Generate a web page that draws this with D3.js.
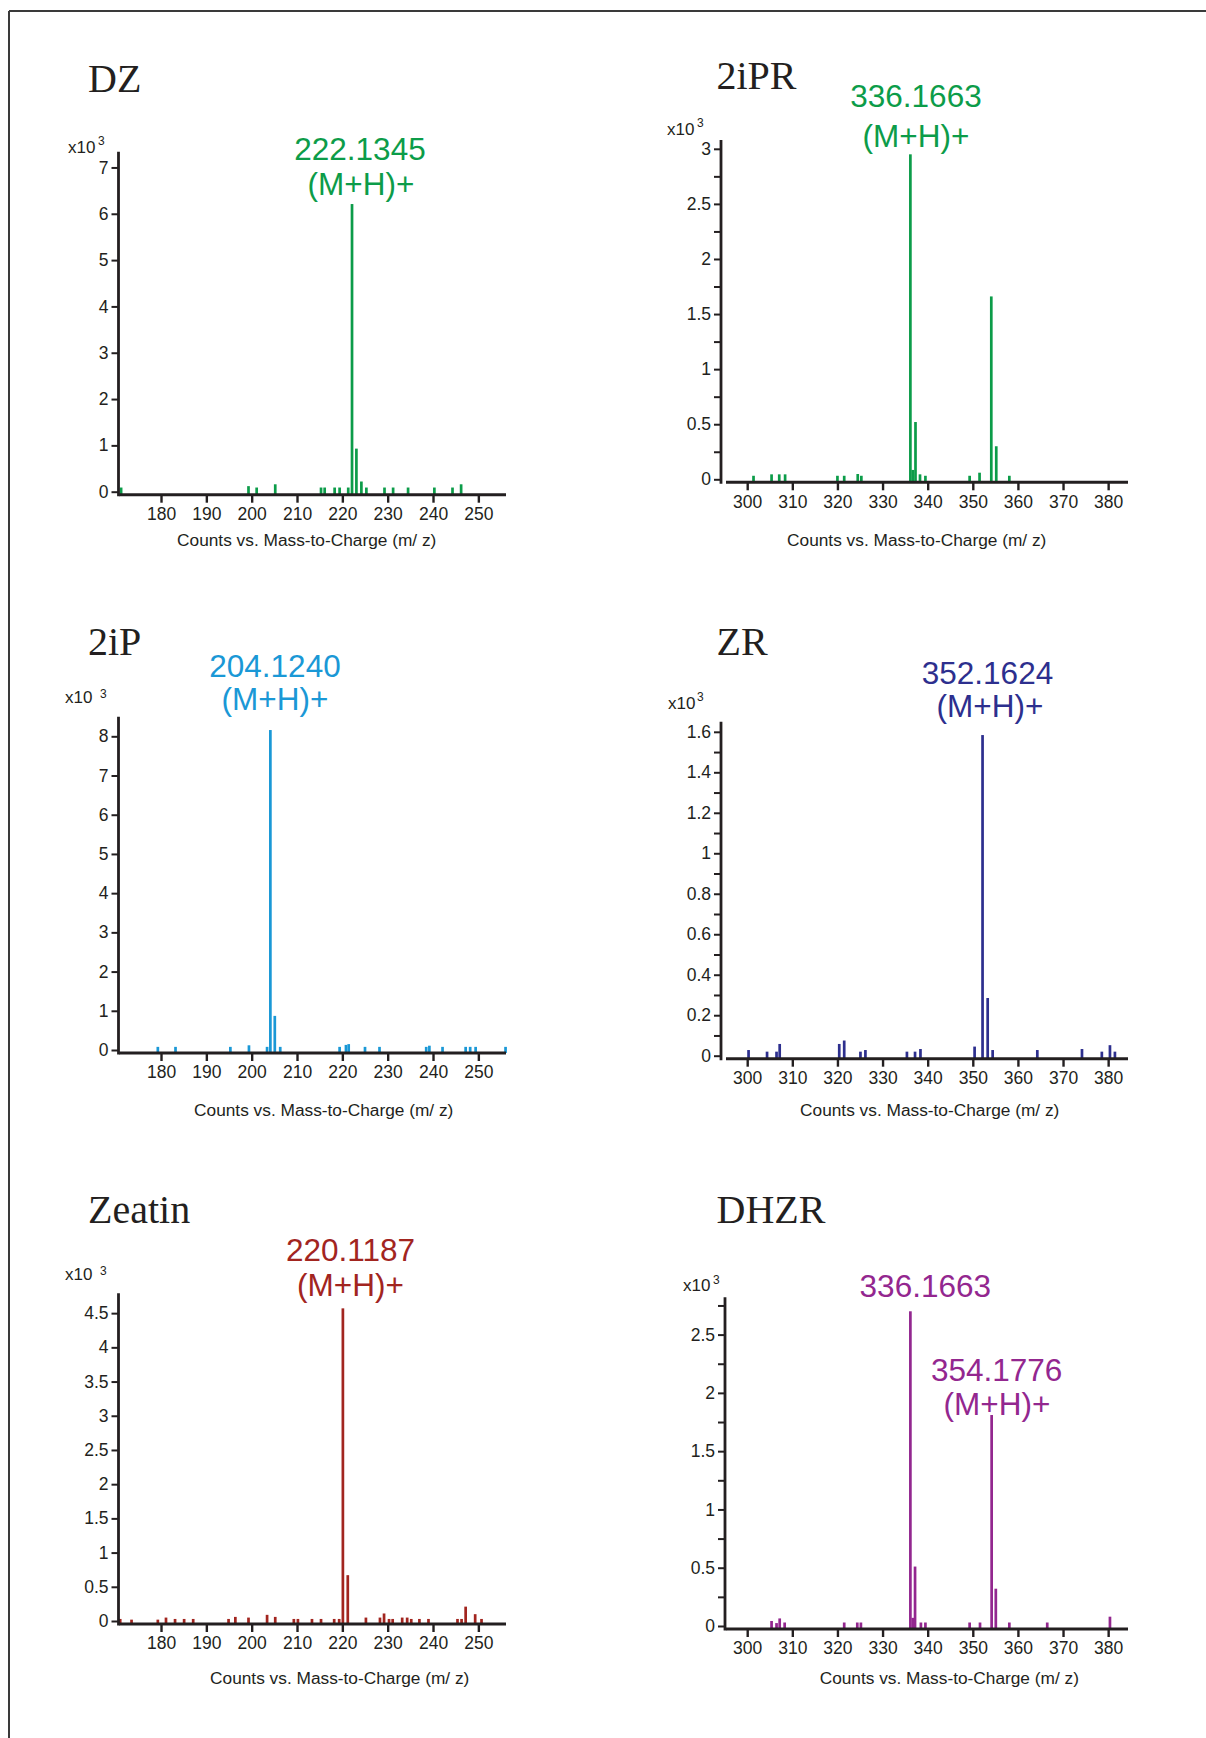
<!DOCTYPE html>
<html>
<head>
<meta charset="utf-8">
<script src="https://cdn.jsdelivr.net/npm/d3@7"></script>
<style>
  html, body { margin: 0; padding: 0; background: #fff; }
  svg { display: block; }
  text { fill: #231f20; }
</style>
</head>
<body>
<svg id="chart" width="1206" height="1738"></svg>
<script>
// ---------------- DATA ----------------
const dzMz     = [171.2, 199.3, 201.1, 205.2, 215.3, 216.1, 218.3, 219.4, 221.3, 222.1345, 223.1, 224.2, 225.3, 229.3, 231.2, 234.5, 240.3, 244.3, 246.2];
const dzCounts = [0.09, 0.12, 0.09, 0.16, 0.09, 0.09, 0.09, 0.09, 0.09, 6.21, 0.93, 0.22, 0.09, 0.09, 0.09, 0.09, 0.09, 0.09, 0.16];

const iprMz     = [301.4, 305.4, 307.1, 308.4, 320.0, 321.5, 324.5, 325.3, 336.1663, 336.7, 337.3, 338.3, 339.5, 349.3, 351.5, 354.1, 355.2, 358.1];
const iprCounts = [0.032, 0.045, 0.045, 0.045, 0.032, 0.032, 0.048, 0.032, 2.95, 0.085, 0.52, 0.045, 0.032, 0.032, 0.06, 1.66, 0.30, 0.032];

const ipMz     = [179.3, 183.2, 195.3, 199.4, 203.4, 204.1240, 205.1, 206.3, 219.4, 220.8, 221.4, 225.0, 228.2, 238.5, 239.2, 242.1, 247.2, 248.2, 249.4, 256.0];
const ipCounts = [0.08, 0.08, 0.08, 0.12, 0.08, 8.16, 0.87, 0.08, 0.08, 0.13, 0.15, 0.08, 0.08, 0.08, 0.11, 0.08, 0.08, 0.08, 0.08, 0.08];

const zrMz     = [300.3, 304.4, 306.5, 307.2, 320.4, 321.5, 325.1, 326.2, 335.4, 337.2, 338.4, 350.4, 352.1624, 353.3, 354.4, 364.3, 374.2, 378.6, 380.4, 381.5];
const zrCounts = [0.028, 0.02, 0.02, 0.058, 0.058, 0.075, 0.02, 0.028, 0.02, 0.02, 0.033, 0.045, 1.584, 0.285, 0.028, 0.028, 0.033, 0.02, 0.052, 0.02];

const zeaMz     = [171.0, 173.5, 179.3, 181.1, 183.1, 185.1, 187.1, 194.9, 196.4, 199.3, 203.4, 205.2, 209.3, 210.2, 213.3, 215.3, 218.2, 219.3, 220.1187, 221.2, 225.2, 228.3, 229.2, 230.3, 231.1, 233.2, 234.3, 235.2, 237.0, 239.0, 245.4, 246.3, 247.2, 249.3, 250.7];
const zeaCounts = [0.03, 0.02, 0.02, 0.05, 0.03, 0.03, 0.03, 0.03, 0.06, 0.05, 0.09, 0.06, 0.03, 0.03, 0.03, 0.03, 0.03, 0.03, 4.57, 0.67, 0.05, 0.05, 0.11, 0.03, 0.03, 0.05, 0.05, 0.03, 0.03, 0.03, 0.03, 0.03, 0.21, 0.10, 0.03];

const dhzrMz     = [305.4, 306.5, 307.2, 308.3, 321.5, 324.4, 325.2, 336.1663, 336.7, 337.2, 338.5, 339.5, 349.3, 351.6, 354.1776, 355.1, 358.1, 366.5, 380.4];
const dhzrCounts = [0.043, 0.025, 0.065, 0.03, 0.03, 0.03, 0.03, 2.70, 0.07, 0.51, 0.03, 0.03, 0.03, 0.03, 1.81, 0.32, 0.03, 0.03, 0.08];

const titles = ["DZ", "2iPR", "2iP", "ZR", "Zeatin", "DHZR"];
const lowTicksX  = [180, 190, 200, 210, 220, 230, 240, 250];
const highTicksX = [300, 310, 320, 330, 340, 350, 360, 370, 380];
const peakLabels = [
  ["222.1345", "(M+H)+"],
  ["336.1663", "(M+H)+"],
  ["204.1240", "(M+H)+"],
  ["352.1624", "(M+H)+"],
  ["220.1187", "(M+H)+"],
  ["336.1663", "354.1776", "(M+H)+"]
];
const axisTitle = "Counts vs. Mass-to-Charge (m/ z)";

// ---------------- LAYOUT ----------------
const panels = [
  { mz: dzMz, counts: dzCounts, color: "#0c9c49", xDom: [170.8, 256.1], xRng: [119.3, 506], xTicks: lowTicksX,
    yAxisX: 118.5, yDom: [0, 7.34], yRng: [491.7, 151.7], major: 1, minor: 1, yTop: 7,
    title: [88, 91.5], exp: { x: 68, y: 153, sx: 98, sy: 145 },
    labels: [[360, 160], [361, 194.5]], at: [306.7, 546] },
  { mz: iprMz, counts: iprCounts, color: "#0c9c49", xDom: [295.3, 384.4], xRng: [726, 1128], xTicks: highTicksX,
    yAxisX: 721, yDom: [0, 3.08], yRng: [479.3, 140], major: 0.5, minor: 0.25, yTop: 3,
    title: [716.5, 89], exp: { x: 667, y: 135, sx: 697, sy: 127 },
    labels: [[916, 106.5], [916, 146.5]], at: [916.7, 546] },
  { mz: ipMz, counts: ipCounts, color: "#1a98d6", xDom: [170.8, 256.1], xRng: [119.3, 506], xTicks: lowTicksX,
    yAxisX: 118.5, yDom: [0, 8.5], yRng: [1050, 716.7], major: 1, minor: 1, yTop: 8,
    title: [88, 655], exp: { x: 65, y: 703, sx: 100, sy: 698 },
    labels: [[275, 676.5], [275, 709.5]], at: [323.7, 1116] },
  { mz: zrMz, counts: zrCounts, color: "#2d2f8e", xDom: [295.3, 384.4], xRng: [726, 1128], xTicks: highTicksX,
    yAxisX: 721, yDom: [0, 1.65], yRng: [1055.7, 721.7], major: 0.2, minor: 0.1, yTop: 1.6,
    title: [716.5, 655], exp: { x: 668, y: 709, sx: 697, sy: 701 },
    labels: [[987.5, 684], [990, 717]], at: [929.7, 1116] },
  { mz: zeaMz, counts: zeaCounts, color: "#a2251f", xDom: [170.8, 256.1], xRng: [119.3, 506], xTicks: lowTicksX,
    yAxisX: 118.5, yDom: [0, 4.79], yRng: [1621, 1293.3], major: 0.5, minor: 0.5, yTop: 4.5,
    title: [88, 1223], exp: { x: 65, y: 1280, sx: 100, sy: 1275 },
    labels: [[350.5, 1260.5], [350.5, 1295.5]], at: [339.7, 1684] },
  { mz: dhzrMz, counts: dhzrCounts, color: "#93278f", xDom: [295.3, 384.4], xRng: [726, 1128], xTicks: highTicksX,
    yAxisX: 725, yDom: [0, 2.82], yRng: [1626, 1297.3], major: 0.5, minor: 0.25, yTop: 2.75,
    title: [716.5, 1223], exp: { x: 683, y: 1291, sx: 713, sy: 1284 },
    labels: [[925.3, 1296.5], [996.7, 1380.5], [997, 1415]], at: [949.3, 1684] }
];

const INK = "#231f20";
const svg = d3.select("#chart");

// frame
svg.append("line").attr("x1", 9).attr("y1", 11).attr("x2", 1206).attr("y2", 11)
  .attr("stroke", "#3a3a3a").attr("stroke-width", 2);
svg.append("line").attr("x1", 9).attr("y1", 11).attr("x2", 9).attr("y2", 1738)
  .attr("stroke", "#3a3a3a").attr("stroke-width", 2);

const fmt = v => String(+v.toFixed(2));

panels.forEach((p, i) => {
  const g = svg.append("g");
  const x = d3.scaleLinear().domain(p.xDom).range(p.xRng);
  const y = d3.scaleLinear().domain(p.yDom).range(p.yRng);
  const y0 = y(0);
  const axisY = y0 + 3;

  // title
  g.append("text").attr("x", p.title[0]).attr("y", p.title[1])
    .attr("font-family", "'Liberation Serif', 'Times New Roman', serif")
    .attr("font-size", 40).text(titles[i]);

  // bars
  const data = p.mz.map((m, k) => ({ m, c: p.counts[k] }));
  const bw = 2.7;
  g.selectAll("rect.bar").data(data).enter().append("rect")
    .attr("class", "bar")
    .attr("x", d => x(d.m) - bw / 2)
    .attr("width", bw)
    .attr("y", d => y(d.c))
    .attr("height", d => axisY - y(d.c))
    .attr("fill", p.color);

  // y axis ticks
  const n = Math.round(p.yTop / p.minor);
  const tv = d3.range(0, n + 1).map(k => +(k * p.minor).toFixed(4));
  const isMajor = v => Math.abs(v / p.major - Math.round(v / p.major)) < 1e-6;
  const ya = g.append("g").attr("transform", `translate(${p.yAxisX},0)`)
    .call(d3.axisLeft(y).tickValues(tv).tickSize(7).tickPadding(3)
      .tickFormat(v => isMajor(v) ? fmt(v) : ""));
  ya.select(".domain").remove();
  ya.selectAll(".tick line").attr("stroke", INK).attr("stroke-width", 2);
  ya.selectAll(".tick text").attr("fill", INK)
    .attr("font-family", "'Liberation Sans', Arial, sans-serif").attr("font-size", 17.5);

  // x axis ticks
  const xa = g.append("g").attr("transform", `translate(0,${axisY})`)
    .call(d3.axisBottom(x).tickValues(p.xTicks).tickSize(8).tickPadding(5).tickFormat(d3.format("d")));
  xa.select(".domain").remove();
  xa.selectAll(".tick line").attr("stroke", INK).attr("stroke-width", 2.4);
  xa.selectAll(".tick text").attr("fill", INK)
    .attr("font-family", "'Liberation Sans', Arial, sans-serif").attr("font-size", 17.5);

  // axis lines
  g.append("line").attr("x1", p.yAxisX).attr("x2", p.yAxisX)
    .attr("y1", p.yRng[1]).attr("y2", axisY + 1.5)
    .attr("stroke", INK).attr("stroke-width", 2.8);
  g.append("line").attr("x1", p.xRng[0]).attr("x2", p.xRng[1])
    .attr("y1", axisY).attr("y2", axisY)
    .attr("stroke", INK).attr("stroke-width", 3);

  // x10^3
  g.append("text").attr("x", p.exp.x).attr("y", p.exp.y)
    .attr("font-family", "'Liberation Sans', Arial, sans-serif").attr("font-size", 17).text("x10");
  g.append("text").attr("x", p.exp.sx).attr("y", p.exp.sy)
    .attr("font-family", "'Liberation Sans', Arial, sans-serif").attr("font-size", 12).text("3");

  // peak labels
  peakLabels[i].forEach((t, k) => {
    g.append("text").attr("x", p.labels[k][0]).attr("y", p.labels[k][1])
      .attr("text-anchor", "middle")
      .attr("font-family", "'Liberation Sans', Arial, sans-serif").attr("font-size", 31.5)
      .style("fill", p.color).text(t);
  });

  // axis title
  g.append("text").attr("x", p.at[0]).attr("y", p.at[1]).attr("text-anchor", "middle")
    .attr("font-family", "'Liberation Sans', Arial, sans-serif").attr("font-size", 17.3)
    .text(axisTitle);
});
</script>
</body>
</html>
